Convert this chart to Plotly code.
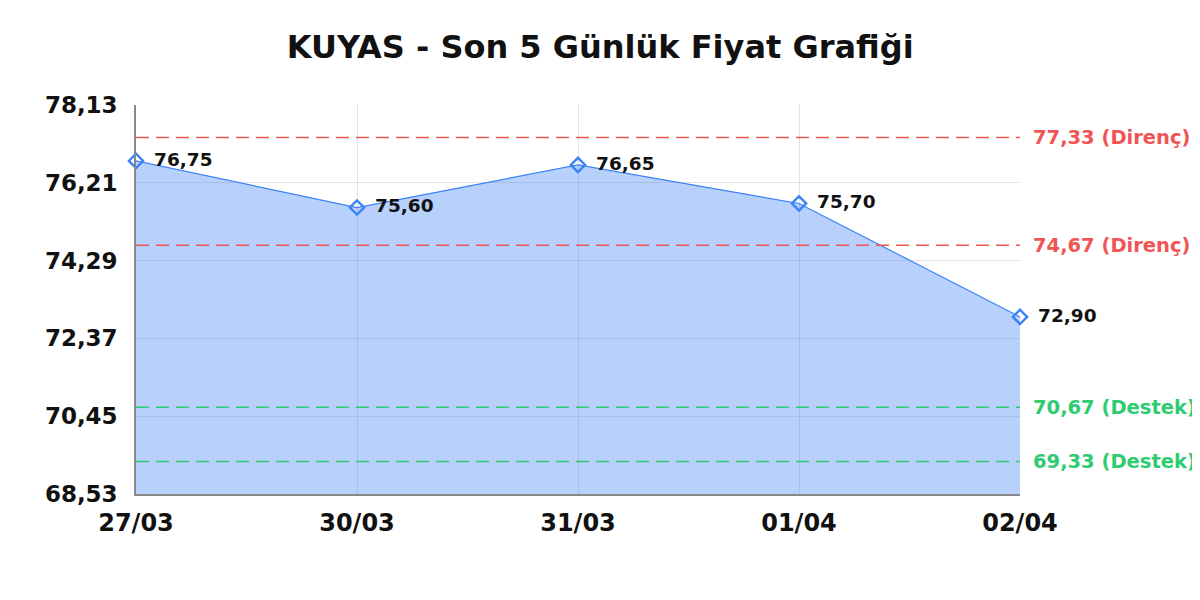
import plotly.graph_objects as go

dates = ["27/03", "30/03", "31/03", "01/04", "02/04"]
prices = [76.75, 75.60, 76.65, 75.70, 72.90]
price_labels = ["76,75", "75,60", "76,65", "75,70", "72,90"]
y_ticks = [68.53, 70.45, 72.37, 74.29, 76.21, 78.13]
y_tick_labels = ["68,53", "70,45", "72,37", "74,29", "76,21", "78,13"]
resistance = [77.33, 74.67]
resistance_labels = ["77,33 (Direnç)", "74,67 (Direnç)"]
support = [70.67, 69.33]
support_labels = ["70,67 (Destek)", "69,33 (Destek)"]
title = "KUYAS - Son 5 Günlük Fiyat Grafiği"

FONT = "DejaVu Sans"
RED = "#f05555"
GREEN = "#2ecc71"
BLUE = "#3b82f6"

fig = go.Figure()
fig.add_trace(go.Scatter(
    x=dates, y=prices, mode="lines+markers+text",
    fill="tozeroy", fillcolor="rgba(59,130,246,0.37)",
    line=dict(color=BLUE, width=1.2),
    marker=dict(symbol="diamond-open", size=11, color=BLUE, line=dict(width=2.4, color=BLUE)),
    text=[" \u2009" + t for t in price_labels], textposition="middle right",
    textfont=dict(family=FONT, size=18.5, color="#111111", weight="bold"),
    cliponaxis=False, showlegend=False, hoverinfo="skip",
))

for vals, labels, col in [(resistance, resistance_labels, RED), (support, support_labels, GREEN)]:
    for v, lab in zip(vals, labels):
        fig.add_shape(type="line", xref="paper", yref="y", x0=0, x1=1, y0=v, y1=v,
                      line=dict(color=col, width=1.5, dash="13px,7px"), layer="above")
        fig.add_annotation(xref="paper", yref="y", x=1, y=v, text=lab, showarrow=False,
                           xanchor="left", xshift=11,
                           font=dict(family=FONT, size=19.5, color=col, weight="bold"))

fig.update_layout(
    width=1200, height=600,
    margin=dict(l=128, r=188, t=97, b=114),
    paper_bgcolor="white", plot_bgcolor="white",
    title=dict(text=title, x=0.4935, xanchor="center", y=0.935, yanchor="middle",
               font=dict(family=FONT, size=32, color="#111111", weight="bold")),
    xaxis=dict(type="category", range=[0, 4], showgrid=True, gridcolor="#e2e2e2",
               showline=True, linecolor="#888888", linewidth=1.5, ticks="",
               ticklabelstandoff=6,
               tickfont=dict(family=FONT, size=24, color="#111111", weight="bold")),
    yaxis=dict(range=[68.53, 78.13], tickvals=y_ticks, ticktext=y_tick_labels,
               showgrid=True, gridcolor="#e2e2e2", showline=True, linecolor="#888888",
               linewidth=1.5, ticks="", zeroline=False, ticklabelstandoff=12,
               tickfont=dict(family=FONT, size=23, color="#111111", weight="bold")),
)

fig.write_html("out.html")
